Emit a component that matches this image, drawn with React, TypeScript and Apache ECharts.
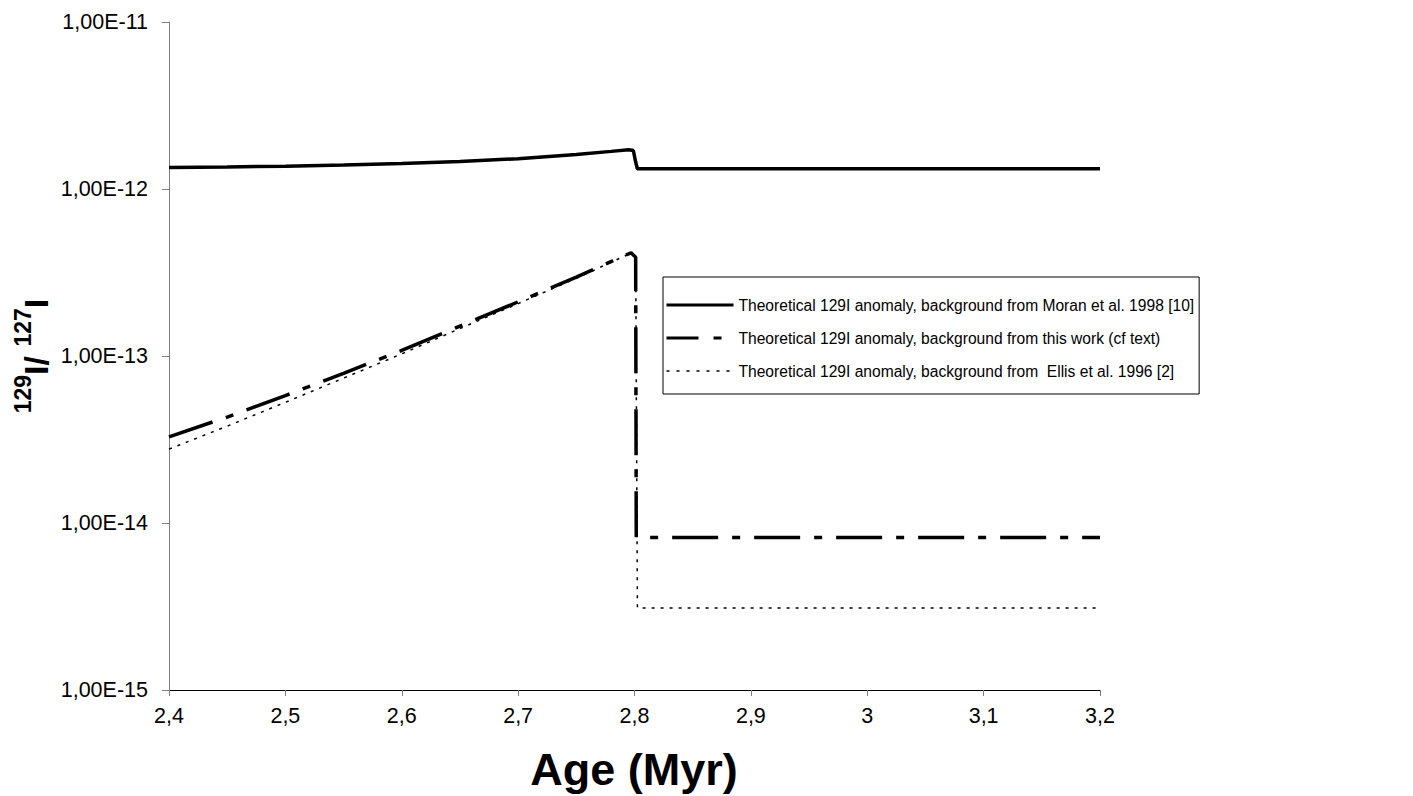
import React, { useEffect, useRef } from "react";
import * as echarts from "echarts";

const moranAge = [2.4, 2.45, 2.5, 2.55, 2.6, 2.65, 2.7, 2.75, 2.78, 2.795, 2.799, 2.801, 2.8025, 3.2];
const moranRatio = [1.345e-12, 1.355e-12, 1.37e-12, 1.39e-12, 1.42e-12, 1.46e-12, 1.52e-12, 1.61e-12, 1.68e-12, 1.72e-12, 1.7e-12, 1.45e-12, 1.32e-12, 1.32e-12];

const thisWorkAge = [2.4, 2.45, 2.5, 2.55, 2.6, 2.65, 2.7, 2.75, 2.797, 2.801, 2.8015, 3.2];
const thisWorkRatio = [3.28e-14, 4.31e-14, 5.79e-14, 7.88e-14, 1.08e-13, 1.51e-13, 2.11e-13, 2.97e-13, 4.15e-13, 3.9e-13, 8.2e-15, 8.2e-15];

const ellisAge = [2.4, 2.45, 2.5, 2.55, 2.6, 2.65, 2.7, 2.75, 2.797, 2.801, 2.8025, 3.2];
const ellisRatio = [2.77e-14, 3.8e-14, 5.28e-14, 7.37e-14, 1.03e-13, 1.46e-13, 2.06e-13, 2.92e-13, 4.13e-13, 3.9e-13, 3.1e-15, 3.1e-15];

const seriesNames = [
  "Theoretical 129I anomaly, background from Moran et al. 1998 [10]",
  "Theoretical 129I anomaly, background from this work (cf text)",
  "Theoretical 129I anomaly, background from  Ellis et al. 1996 [2]",
];

const xTitle = "Age (Myr)";

const pair = (xs: number[], ys: number[]) => xs.map((x, i) => [x, ys[i]]);

export default function App() {
  const ref = useRef<HTMLDivElement>(null);
  useEffect(() => {
    if (!ref.current) return;
    const chart = echarts.init(ref.current, undefined, { renderer: "svg" });
    const font = "Arial, 'Liberation Sans', sans-serif";
    const styles = [
      { color: "#000", width: 3.5, type: "solid" as any },
      { color: "#000", width: 3.5, type: [46, 14, 8, 14] as any },
      { color: "#000", width: 1.5, type: [3, 6] as any },
    ];
    const legendStyles = [
      { color: "#000", width: 3, type: "solid" as any },
      { color: "#000", width: 3, type: [32, 15, 8, 15] as any },
      { color: "#000", width: 1.5, type: [3, 7] as any },
    ];
    chart.setOption({
      animation: false,
      color: ["#000", "#000", "#000"],
      backgroundColor: "#ffffff",
      textStyle: { fontFamily: font },
      grid: { left: 169, right: 313, top: 22, bottom: 106, containLabel: false },
      xAxis: {
        type: "value",
        min: 2.4,
        max: 3.2,
        interval: 0.1,
        axisLine: { lineStyle: { color: "#000", width: 1 } },
        axisTick: { show: true, inside: false, length: 6, lineStyle: { color: "#808080" } },
        axisLabel: {
          fontSize: 21.5,
          color: "#000",
          margin: 15,
          fontFamily: font,
          formatter: (v: number) => {
            const r = Math.round(v * 10) / 10;
            return Number.isInteger(r) ? String(r) : r.toFixed(1).replace(".", ",");
          },
        },
        splitLine: { show: false },
      },
      yAxis: {
        type: "log",
        logBase: 10,
        min: 1e-15,
        max: 1e-11,
        axisLine: { show: true, lineStyle: { color: "#808080", width: 1 } },
        axisTick: { show: true, inside: false, length: 7, lineStyle: { color: "#808080" } },
        minorTick: { show: false },
        axisLabel: {
          fontSize: 21.5,
          color: "#000",
          margin: 21,
          fontFamily: font,
          formatter: (v: number) => {
            const s = v.toExponential(2);
            const [m, e] = s.split("e");
            const neg = e[0] === "-";
            const digits = e.replace(/[+-]/, "").padStart(2, "0");
            return m.replace(".", ",") + "E" + (neg ? "-" : "+") + digits;
          },
        },
        splitLine: { show: false },
      },
      legend: {
        orient: "vertical",
        left: 663,
        top: 277,
        padding: [20, 5, 15, 2],
        itemGap: 17,
        itemWidth: 67,
        itemHeight: 14,
        borderColor: "#000",
        borderWidth: 1,
        backgroundColor: "#fff",
        itemStyle: { opacity: 0 },
        textStyle: { fontSize: 15.6, color: "#000", fontFamily: font },
        data: seriesNames.map((n, i) => ({
          name: n,
          itemStyle: { opacity: 0 },
          lineStyle: legendStyles[i],
        })),
      },
      series: seriesNames.map((n, i) => ({
        name: n,
        type: "line",
        data: [pair(moranAge, moranRatio), pair(thisWorkAge, thisWorkRatio), pair(ellisAge, ellisRatio)][i],
        symbol: "none",
        showSymbol: false,
        itemStyle: { color: "#000" },
        lineStyle: styles[i],
        z: i === 2 ? 2 : 3,
      })),
      graphic: [
        {
          type: "text",
          x: 634,
          y: 769,
          style: {
            text: xTitle,
            fontSize: 45,
            fontWeight: "bold",
            fontFamily: font,
            fill: "#000",
            align: "center",
            verticalAlign: "middle",
          },
        },
        {
          type: "text",
          x: 32,
          y: 356,
          rotation: Math.PI / 2,
          style: {
            text: "{s|129}{b|I/ }{s|127}{b|I}",
            fontFamily: font,
            align: "center",
            verticalAlign: "middle",
            fill: "#000",
            rich: {
              s: { fontSize: 23, fontWeight: "bold", fontFamily: font, verticalAlign: "top", lineHeight: 42 },
              b: { fontSize: 34, fontWeight: "bold", fontFamily: font, verticalAlign: "bottom", lineHeight: 42 },
            },
          },
        },
      ],
    });
    return () => chart.dispose();
  }, []);
  return (
    <div
      ref={ref}
      style={{ position: "fixed", left: 0, top: 0, width: 1413, height: 796 }}
    />
  );
}
